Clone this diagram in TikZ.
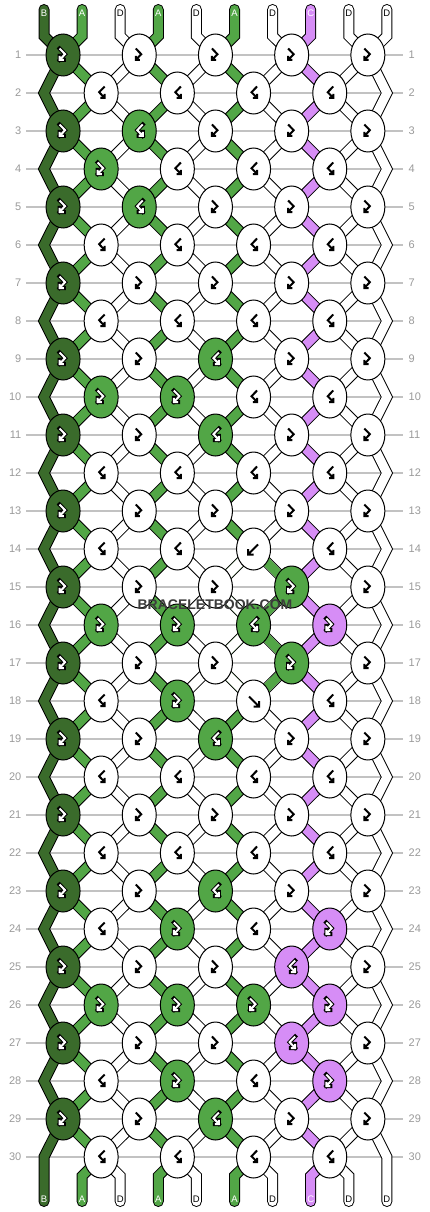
\documentclass[tikz,border=0pt]{standalone}
\usepackage{fontspec}
\setmainfont{Liberation Sans}
\usetikzlibrary{shapes.geometric}
\definecolor{cB}{HTML}{3A6B2B}
\definecolor{cA}{HTML}{52A646}
\definecolor{cC}{HTML}{D68DF6}
\definecolor{cD}{HTML}{FFFFFF}
\definecolor{gridgray}{HTML}{C2C2C2}
\definecolor{numgray}{HTML}{9A9A9A}
\definecolor{wmgray}{HTML}{3C3C3C}
\pgfdeclarelayer{gridlayer}
\pgfdeclarelayer{strandlayer}
\pgfsetlayers{gridlayer,strandlayer,main}
\tikzset{
  knot/.style={ellipse, draw=black, line width=1pt, minimum width=34pt,
    minimum height=42pt, inner sep=0pt, outer sep=0pt},
  gridline/.style={draw=gridgray, line width=1.2pt},
  rownum/.style={text=numgray, font=\fontsize{11}{11}\selectfont, inner sep=0pt},
  strandout/.style={draw=black, line width=11pt, line join=miter, line cap=round},
  strandin/.style={line width=9pt, line join=miter, line cap=round},
  lblstyle/.style={font=\fontsize{9.5}{9.5}\selectfont, inner sep=0pt},
  glyphw/.style={draw=black, line width=2pt, line join=miter},
  glyphk/.style={draw=black, line width=4pt, line join=miter, line cap=rect},
  glyphv/.style={draw=white, line width=2pt, line join=miter},
  wm/.style={font=\bfseries\fontsize{14}{14}\selectfont, inner sep=0pt},
}
\newcommand\glyphfb[3]{\draw[#3, shift={(#1,#2)}] (-3.5,-6.5) -- (2,-0.8) -- (-3.5,5) (-3.5,0.8) -- (-3.5,5) -- (0.7,5);}
\newcommand\glyphbf[3]{\draw[#3, shift={(#1,#2)}] (3.5,-6.5) -- (-2,-0.8) -- (3.5,5) (3.5,0.8) -- (3.5,5) -- (-0.7,5);}
\newcommand\glyphb[3]{\draw[#3, shift={(#1,#2)}] (4.5,-4.5) -- (-5.5,5.5) (-5.5,0) -- (-5.5,5.5) -- (0,5.5);}
\newcommand\glyphf[3]{\draw[#3, shift={(#1,#2)}] (-4.5,-4.5) -- (5.5,5.5) (5.5,0) -- (5.5,5.5) -- (0,5.5);}
\begin{document}
\begin{tikzpicture}[x=1pt,y=-1pt]
\useasboundingbox (0,0) rectangle (430,1212);
\begin{pgfonlayer}{gridlayer}
\fill[white] (0,0) rectangle (430,1212);
\end{pgfonlayer}
% grid lines and row numbers
\foreach \row in {1,...,30}{
  \pgfmathsetmacro\ry{55+38*(\row-1)}
  \begin{pgfonlayer}{gridlayer}
    \draw[gridline] (26,\ry) -- (403,\ry);
  \end{pgfonlayer}
  \node[rownum, anchor=east] (nl-\row) at (21.5,\ry) {\row};
  \node[rownum, anchor=west] (nr-\row) at (408.5,\ry) {\row};
}
% knots
\foreach \row/\spec in {
 1/{B/fb,D/fb,D/fb,D/fb,D/fb},
 2/{D/bf,D/bf,D/bf,D/bf},
 3/{B/fb,A/bf,D/fb,D/fb,D/fb},
 4/{A/fb,D/bf,D/bf,D/bf},
 5/{B/fb,A/bf,D/fb,D/fb,D/fb},
 6/{D/bf,D/bf,D/bf,D/bf},
 7/{B/fb,D/fb,D/fb,D/fb,D/fb},
 8/{D/bf,D/bf,D/bf,D/bf},
 9/{B/fb,D/fb,A/bf,D/fb,D/fb},
 10/{A/fb,A/fb,D/bf,D/bf},
 11/{B/fb,D/fb,A/bf,D/fb,D/fb},
 12/{D/bf,D/bf,D/bf,D/bf},
 13/{B/fb,D/fb,D/fb,D/fb,D/fb},
 14/{D/bf,D/bf,D/b,D/bf},
 15/{B/fb,D/fb,D/fb,A/fb,D/fb},
 16/{A/fb,A/fb,A/bf,C/fb},
 17/{B/fb,D/fb,D/fb,A/fb,D/fb},
 18/{D/bf,A/fb,D/f,D/bf},
 19/{B/fb,D/fb,A/bf,D/fb,D/fb},
 20/{D/bf,D/bf,D/bf,D/bf},
 21/{B/fb,D/fb,D/fb,D/fb,D/fb},
 22/{D/bf,D/bf,D/bf,D/bf},
 23/{B/fb,D/fb,A/bf,D/fb,D/fb},
 24/{D/bf,A/fb,D/bf,C/fb},
 25/{B/fb,D/fb,D/fb,C/bf,D/fb},
 26/{A/fb,A/fb,A/fb,C/fb},
 27/{B/fb,D/fb,D/fb,C/bf,D/fb},
 28/{D/bf,A/fb,D/bf,C/fb},
 29/{B/fb,D/fb,A/bf,D/fb,D/fb},
 30/{D/bf,D/bf,D/bf,D/bf}}{
  \pgfmathsetmacro\ry{55+38*(\row-1)}
  \pgfmathsetmacro\xo{mod(\row,2)==1 ? 63.05 : 101.15}
  \foreach \kc/\kt [count=\kj from 0] in \spec {
    \pgfmathsetmacro\kx{\xo+76.2*\kj}
    \node[knot, fill=c\kc] (k-\row-\kj) at (\kx,\ry) {};
    \if\kc D
      \csname glyph\kt\endcsname{\kx}{\ry}{glyphw}
    \else
      \csname glyph\kt\endcsname{\kx}{\ry}{glyphk}
      \csname glyph\kt\endcsname{\kx}{\ry}{glyphv}
    \fi
  }
}
% strand points
\foreach \row in {1,...,30}{
  \pgfmathsetmacro\ry{55+38*(\row-1)}
  \pgfmathtruncatemacro\odd{mod(\row,2)}
  \foreach \p in {0,...,9}{
    \ifnum\odd=1
      \pgfmathtruncatemacro\jj{floor(\p/2)}
      \coordinate (s-\row-\p) at (k-\row-\jj.center);
    \else
      \ifnum\p=0
        \coordinate (s-\row-\p) at (44,\ry);
      \else
        \ifnum\p=9
          \coordinate (s-\row-\p) at (386.9,\ry);
        \else
          \pgfmathtruncatemacro\jj{floor((\p-1)/2)}
          \coordinate (s-\row-\p) at (k-\row-\jj.center);
        \fi
      \fi
    \fi
  }
}
\foreach \p in {0,...,9}{
  \pgfmathsetmacro\sx{44+38.1*\p}
  \coordinate (top-\p) at (\sx,9.5);
  \coordinate (tb-\p) at (\sx,36);
  \coordinate (bb-\p) at (\sx,1176);
  \coordinate (bot-\p) at (\sx,1201.5);
}
% strands
\begin{pgfonlayer}{strandlayer}
\foreach \p in {0,...,9}{
  \draw[strandout] (top-\p) -- (tb-\p) \foreach \row in {1,...,30}{ -- (s-\row-\p) } -- (bb-\p) -- (bot-\p);
}
\foreach \p/\ltr in {0/B,1/A,2/D,3/A,4/D,5/A,6/D,7/C,8/D,9/D}{
  \draw[strandin, color=c\ltr] (top-\p) -- (tb-\p) \foreach \row in {1,...,30}{ -- (s-\row-\p) } -- (bb-\p) -- (bot-\p);
}
\foreach \row in {14,...,17}{
  \pgfmathtruncatemacro\rn{\row+1}
  \draw[strandin, line cap=butt, color=cD] (s-\row-5) -- (s-\rn-5);
  \draw[strandin, line cap=butt, color=cA] (s-\row-6) -- (s-\rn-6);
}
\end{pgfonlayer}
% string labels
\foreach \p/\ltr in {0/B,1/A,2/D,3/A,4/D,5/A,6/D,7/C,8/D,9/D}{
  \pgfmathsetmacro\sx{44+38.1*\p}
  \if\ltr D \def\lcol{black}\else\def\lcol{white}\fi
  \node[lblstyle, text=\lcol] (lt-\p) at (\sx,13) {\ltr};
  \node[lblstyle, text=\lcol] (lb-\p) at (\sx,1199.5) {\ltr};
}
% watermark
\node[wm, text=wmgray] (wm) at (215,605) {BRACELETBOOK.COM};
\end{tikzpicture}
\end{document}
